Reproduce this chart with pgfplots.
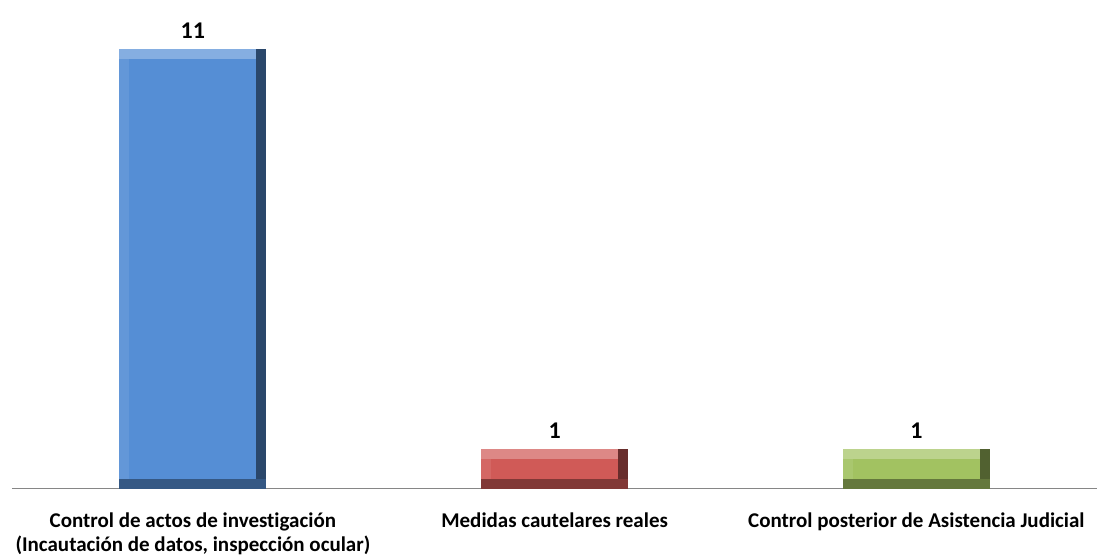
\documentclass[border=0pt]{standalone}
\usepackage{pgfplots}
\pgfplotsset{compat=1.18}
\usepackage{fontspec}
\setmainfont[Ligatures=NoCommon]{Carlito}

\definecolor{cblue}{HTML}{558ED5}
\definecolor{cred}{HTML}{D05A57}
\definecolor{cgreen}{HTML}{A2C261}
\definecolor{axisgray}{HTML}{868686}

% layers of the bevelled bar face
\pgfplotsset{
  edge right/.style={draw=none, fill=#1!50!black, bar width=147pt, bar shift=0pt},
  edge top/.style={draw=none, fill=#1!72!white, bar width=137pt, bar shift=-5pt},
  edge left/.style={draw=none, fill=#1!92!white, bar width=137pt, bar shift=-5pt},
  face/.style={draw=none, fill=#1, bar width=127pt, bar shift=0pt},
  edge bottom/.style={draw=none, fill=#1!62!black, bar width=147pt, bar shift=0pt},
}

\begin{document}
\begin{tikzpicture}
\begin{axis}[
  name=ax,
  scale only axis,
  width=1086pt,
  height=480pt,
  xmin=-0.5, xmax=2.5,
  ymin=0, ymax=12,
  ybar,
  axis x line=bottom,
  axis y line=none,
  x axis line style={-, draw=axisgray, line width=1.5pt},
  xtick={0,1,2},
  xticklabels={
    {Control de actos de investigación\\(Incautación de datos, inspección ocular)},
    {Medidas cautelares reales},
    {Control posterior de Asistencia Judicial}},
  xticklabel style={align=center, font=\bfseries\fontsize{21}{24}\selectfont,
    yshift=-21pt},
  major tick length=0pt,
  ytick=\empty,
  /pgf/number format/assume math mode=true,
  nodes near coords style={font=\bfseries\fontsize{24}{26}\selectfont,
    text=black, yshift=7pt},
  clip=false,
]
% values: 11, 1, 1
\addplot[edge right=cblue, nodes near coords] coordinates {(0,11)};
\addplot[edge top=cblue] coordinates {(0,11)};
\addplot[edge left=cblue] coordinates {(0,10.75)};
\addplot[face=cblue] coordinates {(0,10.75)};
\addplot[edge bottom=cblue] coordinates {(0,0.25)};

\addplot[edge right=cred, nodes near coords] coordinates {(1,1)};
\addplot[edge top=cred] coordinates {(1,1)};
\addplot[edge left=cred] coordinates {(1,0.75)};
\addplot[face=cred] coordinates {(1,0.75)};
\addplot[edge bottom=cred] coordinates {(1,0.25)};

\addplot[edge right=cgreen, nodes near coords] coordinates {(2,1)};
\addplot[edge top=cgreen] coordinates {(2,1)};
\addplot[edge left=cgreen] coordinates {(2,0.75)};
\addplot[face=cgreen] coordinates {(2,0.75)};
\addplot[edge bottom=cgreen] coordinates {(2,0.25)};
\end{axis}
\path ([xshift=-12pt,yshift=-66pt]ax.south west) rectangle ([yshift=9pt]ax.north east);
\end{tikzpicture}
\end{document}
